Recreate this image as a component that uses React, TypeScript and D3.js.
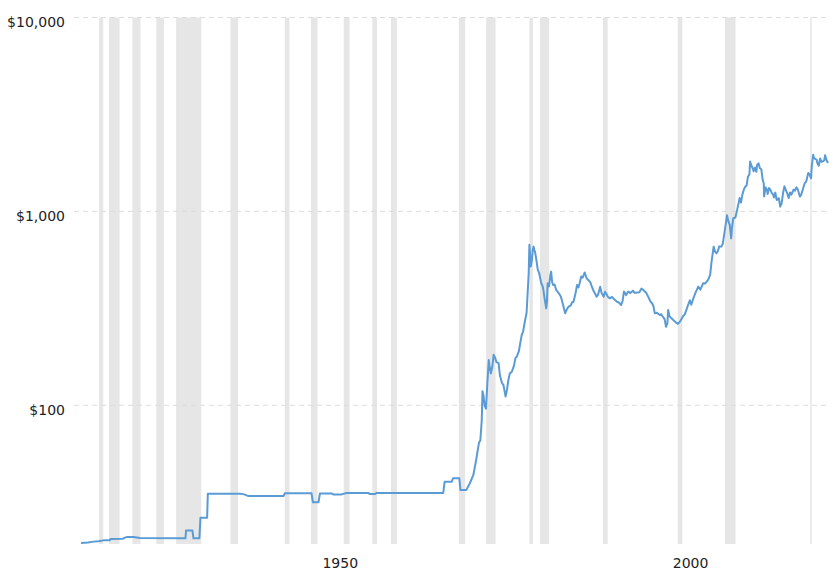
import React from "react";
import * as d3 from "d3";

// Gold price (USD/oz), decimal year -> price
const goldEarly: [number, number][] = [
  [1916.0, 19.5], [1917.0, 19.6], [1917.8, 19.8], [1918.5, 19.9], [1919.2, 20.1],
  [1920.1, 20.1], [1920.2, 20.4], [1922.0, 20.5], [1922.2, 20.7], [1922.5, 20.9],
  [1923.5, 20.9], [1924.4, 20.7], [1930.9, 20.6], [1931.0, 22.6], [1931.9, 22.6],
  [1932.05, 20.6], [1932.9, 20.6], [1933.05, 26.3], [1934.0, 26.3], [1934.1, 35.0],
];

const goldFixed: [number, number][] = [
  [1938.7, 35.0], [1939.3, 34.7], [1939.9, 34.0], [1944.9, 34.0], [1945.1, 35.2],
  [1948.9, 35.2], [1949.1, 31.6], [1949.9, 31.6], [1950.1, 35.1], [1951.8, 35.1],
  [1952.0, 34.7], [1953.2, 34.7], [1953.9, 35.3], [1957.0, 35.3], [1957.2, 34.9],
  [1958.0, 34.9], [1958.2, 35.3], [1967.7, 35.3], [1967.9, 40.3], [1968.9, 40.3],
  [1969.1, 42.0], [1970.0, 42.0], [1970.15, 36.6], [1971.0, 36.6], [1971.5, 39.6],
  [1972.0, 43.7], [1972.4, 52.2],
];

const goldFloating: [number, number][] = [
  [1972.6, 58], [1972.8, 64], [1973.0, 66], [1973.2, 84], [1973.3, 118], [1973.45, 112],
  [1973.6, 100], [1973.8, 96], [1974.0, 130], [1974.2, 171], [1974.3, 160], [1974.5, 146],
  [1974.7, 158], [1974.9, 182], [1975.1, 176], [1975.3, 167], [1975.6, 165], [1975.8, 142],
  [1976.1, 130], [1976.3, 127], [1976.6, 111], [1976.8, 120], [1977.0, 135], [1977.2, 146],
  [1977.5, 149], [1977.8, 160], [1978.0, 175], [1978.2, 178], [1978.5, 190], [1978.7, 210],
  [1978.9, 230], [1979.1, 240], [1979.4, 276], [1979.6, 300], [1979.75, 380], [1979.9, 480],
  [1980.0, 672], [1980.1, 600], [1980.2, 519], [1980.35, 560], [1980.5, 640], [1980.6, 658],
  [1980.7, 630], [1980.8, 620], [1981.0, 560], [1981.2, 499], [1981.4, 480], [1981.5, 460],
  [1981.7, 426], [1981.9, 410], [1982.0, 393], [1982.2, 350], [1982.4, 316], [1982.5, 340],
  [1982.6, 426], [1982.8, 410], [1983.0, 470], [1983.1, 489], [1983.25, 430], [1983.4, 417],
  [1983.6, 420], [1983.8, 395], [1984.0, 386], [1984.2, 378], [1984.5, 363], [1984.8, 330],
  [1985.1, 298], [1985.3, 310], [1985.6, 323], [1985.9, 327], [1986.1, 340], [1986.3, 342],
  [1986.6, 380], [1986.8, 417], [1987.0, 405], [1987.2, 430], [1987.4, 461], [1987.6, 455],
  [1987.9, 484], [1988.0, 470], [1988.2, 450], [1988.4, 443], [1988.7, 430], [1988.9, 410],
  [1989.2, 386], [1989.4, 375], [1989.6, 363], [1989.8, 372], [1990.1, 409], [1990.3, 380],
  [1990.6, 363], [1990.8, 385], [1991.0, 375], [1991.2, 363], [1991.5, 356], [1991.8, 362],
  [1992.1, 352], [1992.5, 342], [1992.8, 338], [1993.1, 329], [1993.3, 345], [1993.5, 386],
  [1993.8, 370], [1994.1, 386], [1994.4, 379], [1994.8, 390], [1995.0, 380], [1995.3, 381],
  [1995.7, 383], [1996.0, 400], [1996.3, 392], [1996.7, 379], [1997.0, 360], [1997.3, 342],
  [1997.5, 336], [1997.7, 325], [1997.9, 298], [1998.2, 300], [1998.6, 292], [1998.8, 295],
  [1999.0, 288], [1999.3, 278], [1999.5, 254], [1999.7, 265], [1999.8, 310], [2000.0, 288],
  [2000.2, 283], [2000.5, 276], [2000.8, 270], [2001.0, 266], [2001.2, 263], [2001.5, 270],
  [2001.9, 287], [2002.2, 295], [2002.5, 318], [2002.9, 348], [2003.1, 330], [2003.4, 356],
  [2003.7, 380], [2004.1, 409], [2004.4, 395], [2004.8, 426], [2005.1, 425], [2005.5, 443],
  [2005.8, 470], [2006.0, 550], [2006.3, 658], [2006.5, 620], [2006.7, 608], [2006.9, 625],
  [2007.1, 660], [2007.4, 658], [2007.6, 680], [2007.9, 800], [2008.2, 954], [2008.4, 890],
  [2008.6, 850], [2008.8, 726], [2008.9, 815], [2009.1, 922], [2009.4, 930], [2009.6, 999],
  [2009.9, 1120], [2010.0, 1171], [2010.2, 1110], [2010.4, 1220], [2010.6, 1294], [2010.8, 1340],
  [2011.0, 1360], [2011.2, 1514], [2011.4, 1550], [2011.5, 1807], [2011.7, 1720], [2011.9, 1660],
  [2012.0, 1611], [2012.2, 1680], [2012.4, 1600], [2012.5, 1737], [2012.7, 1770], [2012.9, 1670],
  [2013.1, 1650], [2013.3, 1455], [2013.45, 1392], [2013.5, 1192], [2013.7, 1330], [2013.9, 1294],
  [2014.0, 1230], [2014.2, 1320], [2014.4, 1290], [2014.6, 1243], [2014.8, 1220], [2014.9, 1180],
  [2015.1, 1250], [2015.3, 1144], [2015.6, 1170], [2015.8, 1058], [2016.0, 1100], [2016.2, 1240],
  [2016.4, 1347], [2016.6, 1290], [2016.8, 1240], [2017.0, 1171], [2017.2, 1250], [2017.4, 1220],
  [2017.7, 1294], [2017.9, 1280], [2018.1, 1330], [2018.3, 1300], [2018.6, 1192], [2018.8, 1220],
  [2019.0, 1290], [2019.3, 1400], [2019.5, 1420], [2019.8, 1576], [2020.0, 1550], [2020.2, 1480],
  [2020.3, 1700], [2020.5, 1957], [2020.6, 1900], [2020.8, 1860], [2021.0, 1850], [2021.1, 1775],
  [2021.3, 1720], [2021.5, 1873], [2021.7, 1800], [2021.9, 1810], [2022.1, 1840], [2022.2, 1950],
  [2022.4, 1840], [2022.62, 1775],
];

// NBER recessions (decimal years)
const recessions: [number, number][] = [
  [1918.58, 1919.17], [1920.0, 1921.5], [1923.33, 1924.5], [1926.75, 1927.83],
  [1929.58, 1933.17], [1937.33, 1938.42], [1945.08, 1945.75], [1948.83, 1949.75],
  [1953.5, 1954.33], [1957.58, 1958.25], [1960.25, 1961.08], [1969.92, 1970.83],
  [1973.83, 1975.17], [1980.0, 1980.5], [1981.5, 1982.83], [1990.5, 1991.17],
  [2001.17, 2001.83], [2007.92, 2009.42], [2020.08, 2020.25],
];

const yTicks = [100, 1000, 10000];
const xTickYears = [1950, 2000];
const xLabelShift = 3;

const W = 833;
const H = 579;

export default function App() {
  const x = d3.scaleLinear().domain([1915.0, 2022.62]).range([74, 828]);
  const y = d3.scaleLog().domain([19.25, 10000]).range([544, 17.5]);
  const data = [...goldEarly, ...goldFixed, ...goldFloating];
  const line = d3
    .line<[number, number]>()
    .x((d) => x(d[0]))
    .y((d) => y(d[1]));
  const fmt = d3.format("$,");
  const [x0, x1] = x.range();
  const [yb, yt] = y.range();

  return (
    <svg
      width={W}
      height={H}
      style={{ position: "absolute", left: 0, top: 0, background: "#fff" }}
      fontFamily="'DejaVu Sans', Verdana, sans-serif"
    >
      <g>
        {recessions.map(([a, b], i) => (
          <rect
            key={i}
            x={x(a)}
            y={yt}
            width={Math.max(1.5, x(b) - x(a))}
            height={yb - yt}
            fill="#e6e6e6"
          />
        ))}
      </g>
      <g>
        {yTicks.map((t) => (
          <g key={t}>
            <line
              x1={x0}
              x2={x1}
              y1={y(t)}
              y2={y(t)}
              stroke="#dcdcdc"
              strokeWidth={1}
              strokeDasharray="5,4"
            />
            <text x={65} y={y(t) + 9.5} textAnchor="end" fontSize={14} fill="#222">
              {fmt(t)}
            </text>
          </g>
        ))}
      </g>
      <g>
        {xTickYears.map((t) => (
          <text key={t} x={x(t + xLabelShift)} y={568} textAnchor="middle" fontSize={14} fill="#222">
            {t}
          </text>
        ))}
      </g>
      <path
        d={line(data) || ""}
        fill="none"
        stroke="#5b9bd5"
        strokeWidth={2}
        strokeLinejoin="round"
      />
    </svg>
  );
}
